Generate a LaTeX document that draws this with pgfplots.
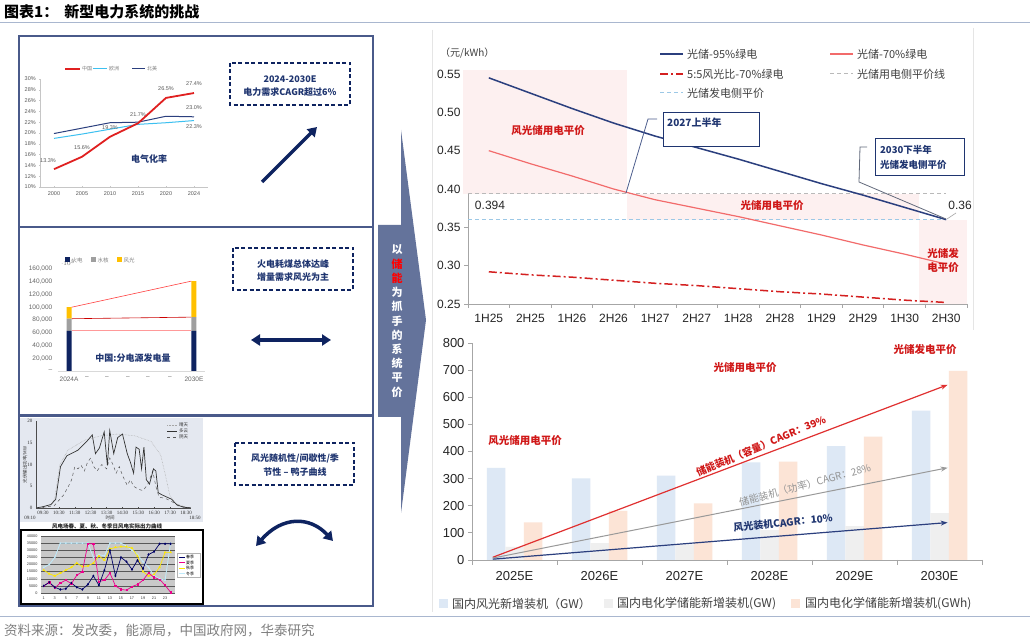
\documentclass[border=0pt]{standalone}
\usepackage{pgfplots}
\pgfplotsset{compat=1.18}
\usepackage{fontspec}
\setmainfont{Noto Sans CJK SC}
\newfontfamily\arial{Liberation Sans}
\newfontfamily\tms{Liberation Serif}
\usetikzlibrary{arrows.meta}
\newcommand\fs[1]{\fontsize{#1}{#1}\selectfont}
\definecolor{navy}{HTML}{0E2360}
\definecolor{dnavy}{HTML}{2B3F7E}
\definecolor{cnavy}{HTML}{1F3570}
\definecolor{slate}{HTML}{64739B}
\definecolor{boxc}{HTML}{4A5A8A}
\definecolor{hline}{HTML}{A9B7CF}
\definecolor{lred}{HTML}{F26B6B}
\definecolor{dred}{HTML}{D42020}
\definecolor{tred}{HTML}{D01818}
\definecolor{lblue}{HTML}{9CC8E6}
\definecolor{pinkbg}{HTML}{FDF0F0}
\definecolor{barb}{HTML}{DDE8F5}
\definecolor{barg}{HTML}{EFEFEF}
\definecolor{baro}{HTML}{FCE4D6}
\definecolor{txt}{HTML}{404040}
\definecolor{cred}{HTML}{E02020}
\definecolor{ccyan}{HTML}{3CC0F0}
\definecolor{cyel}{HTML}{FFC000}
\definecolor{imgbg}{HTML}{E4E8F0}
\definecolor{arrred}{HTML}{E03030}
\tikzset{px/.style={x=1pt,y=1pt,shift={(0pt,642pt)},yscale=-1}}
\begin{document}
\begin{tikzpicture}
\fill[white] (0pt,0pt) rectangle (1030pt,642pt);

% ---------------- background decorations (pixel coords, y downward)
\begin{scope}[px]
 \node[anchor=west,inner sep=0,font=\fs{15}\bfseries] at (4,12) {图表1：\hspace{6pt}新型电力系统的挑战};
 \draw[hline,line width=1pt] (0,23) -- (1030,23);
 \draw[hline,line width=1pt] (0,617) -- (1030,617);
 \node[anchor=west,inner sep=0,font=\fs{13.5},text=gray] at (4,630) {资料来源：发改委，能源局，中国政府网，华泰研究};
 \draw[boxc,line width=1.3pt] (19,36) rectangle (373,227);
 \draw[boxc,line width=1.3pt] (19,227) rectangle (373,415);
 \draw[boxc,line width=1.3pt] (19,416) rectangle (373,606);
 \draw[gray!20] (432,30) -- (432,612);
 \draw[gray!20] (973,28) -- (973,330);
 % middle arrow
 \fill[slate] (401,130) -- (426,320) -- (401,513) -- (401,417) -- (378,417) -- (378,225) -- (401,225) -- cycle;
 \begin{scope}[every node/.style={font=\fs{11}\bfseries,text=white,inner sep=0}]
  \node at (397,250.0) {以};
  \node[text=red] at (397,264.2) {储};
  \node[text=red] at (397,278.4) {能};
  \node at (397,292.6) {为};
  \node at (397,306.8) {抓};
  \node at (397,321.0) {手};
  \node at (397,335.2) {的};
  \node at (397,349.4) {系};
  \node at (397,363.6) {统};
  \node at (397,377.8) {平};
  \node at (397,392.0) {价};
 \end{scope}
 % box 3 image backgrounds
 \fill[imgbg] (20,418) rectangle (203,522);
 \draw[black,line width=1.5pt,fill=white] (21,530) rectangle (203,604);
\end{scope}

% ---------------- Box 1 : electrification rate
\begin{axis}[at={(40pt,455pt)},anchor=south west,scale only axis,width=168pt,height=108pt,
  xmin=-0.5,xmax=5.5,ymin=10,ymax=30,
  axis lines=left, axis line style={-,draw=gray!45,line width=0.4pt},
  xtick={0,...,5}, xticklabels={2000,2005,2010,2015,2020,2024},
  ytick={10,12,...,30}, yticklabel={\pgfmathprintnumber{\tick}\%},
  tick style={draw=gray!45}, major tick length=1.5pt,
  tick label style={font=\arial\fs{5.5},text=gray!70!black},
  /pgf/number format/assume math mode=true]
\addplot[ccyan,line width=1pt] coordinates {(0,19.0)(1,19.8)(2,20.7)(3,21.6)(4,21.9)(5,22.3)};
\addplot[dnavy,line width=1pt] coordinates {(0,19.9)(1,20.9)(2,21.9)(3,22.0)(4,23.1)(5,23.0)};
\addplot[cred,line width=1.8pt] coordinates {(0,13.3)(1,15.6)(2,19.3)(3,21.8)(4,26.5)(5,27.4)};
\end{axis}

% ---------------- Box 2 : generation by source
\begin{axis}[at={(58pt,271pt)},anchor=south west,scale only axis,width=147pt,height=102pt,
  xmin=-0.53,xmax=6.53,ymin=0,ymax=160000,clip=false,
  ybar stacked, bar width=5pt,
  axis lines=left, x axis line style={-,draw=gray!30,line width=0.6pt}, y axis line style={draw=none},
  xtick={0,0.86,1.82,2.83,3.79,4.85,6}, xticklabels={2024A,–,–,–,–,–,2030E},
  ytick={0,20000,...,160000},
  yticklabels={–,{20,000},{40,000},{60,000},{80,000},{100,000},{120,000},{140,000},{160,000}},
  tick style={draw=none},
  tick label style={font=\arial\fs{6.5},text=gray!80!black}]
\addplot[fill=navy,draw=none] coordinates {(0,63000)(6,63000)};
\addplot[fill=gray!75,draw=none] coordinates {(0,19000)(6,21500)};
\addplot[fill=cyel,draw=none] coordinates {(0,18000)(6,56500)};
\draw[red!75,line width=0.6pt] (axis cs:0.12,100000) -- (axis cs:5.88,141000);
\draw[red!80!black,line width=0.6pt] (axis cs:0.12,82000) -- (axis cs:5.88,84500);
\draw[red!40,line width=0.8pt] (axis cs:0.12,63000) -- (axis cs:5.88,63000);
\end{axis}

% ---------------- Box 3 top : daily PV output
\begin{axis}[at={(36pt,134pt)},anchor=south west,scale only axis,width=155pt,height=87pt,
  xmin=9.06,xmax=18.81,ymin=0,ymax=20,
  axis lines=left, axis line style={-,draw=gray!60!black,line width=0.4pt},
  xtick={9.5,10.5,...,18.5},
  xticklabels={09:30,10:30,11:30,12:30,13:30,14:30,15:30,16:30,17:30,18:30},
  ytick={0,5,10,15,20}, tick style={draw=gray!60!black}, major tick length=1.2pt, tick align=inside,
  tick label style={font=\tms\fs{5},text=black!80},
  /pgf/number format/assume math mode=true]
\addplot[gray!70,line width=0.5pt,densely dotted] coordinates {(9.06,0)(9.6,0.1)(10.0,0.5)(10.24,2.3)(10.55,9.9)(11.07,13.3)(12.12,15.6)(13.15,16.6)(14.2,17)(15.27,16.6)(16.3,15.3)(16.9,12.2)(17.2,7.6)(17.47,3)(17.8,1.1)(18.4,0.3)(18.81,0)};
\addplot[gray!70!black,line width=0.5pt,dashed] coordinates {(9.06,0)(10.2,0.5)(10.8,3)(11.1,5)(11.3,6.5)(11.5,9.5)(11.7,9)(11.9,9.8)(12.1,8.5)(12.3,10.5)(12.5,11.5)(12.7,9.5)(12.9,8.5)(13.2,10)(13.5,9)(13.7,11.5)(13.9,10)(14.1,8)(14.3,9.5)(14.5,7.5)(14.8,5.2)(15.0,6.5)(15.2,5)(15.5,4.3)(15.8,4)(16.1,5.5)(16.4,8.5)(16.6,5)(16.8,2.5)(17.2,2.2)(17.6,1.5)(18.0,0.5)(18.81,0)};
\addplot[black!80,line width=0.7pt] coordinates {(9.06,0)(9.5,0.3)(10.0,0.8)(10.3,2)(10.6,9.5)(11.0,12)(11.7,13.3)(12.3,15.5)(12.6,16.8)(12.8,12.5)(13.05,13.8)(13.35,17.5)(13.55,9.8)(13.7,17.8)(13.95,12.5)(14.2,16.2)(14.5,17)(14.8,12.5)(15.0,10.5)(15.2,8)(15.35,14)(15.55,13.5)(15.7,9)(15.85,14)(16.0,6.5)(16.2,5.5)(16.45,9)(16.6,8.5)(16.75,3.5)(17.0,3)(17.3,2.5)(17.6,2)(17.9,0.8)(18.3,0.2)(18.81,0)};
\end{axis}

% ---------------- Box 3 bottom : seasonal wind output
\begin{axis}[at={(41pt,49pt)},anchor=south west,scale only axis,width=134pt,height=57pt,
  xmin=0.5,xmax=24.8,ymin=0,ymax=40000,
  axis background/.style={fill=gray!42},
  axis line style={draw=none}, ymajorgrids, grid style={gray!70!black,line width=0.4pt},
  xtick={1,3,...,23}, ytick={0,5000,...,40000}, scaled y ticks=false,
  tick style={draw=none},
  tick label style={font=\arial\fs{3.8},text=black!80},
  /pgf/number format/set thousands separator={},
  /pgf/number format/assume math mode=true]
\addplot[cyan!25,line width=0.8pt,mark=x,mark size=0.8pt] coordinates {(1,18000)(2,20000)(3,25000)(4,35000)(5,35000)(6,35000)(7,35000)(8,35000)(9,35000)(10,25000)(11,27000)(12,26000)(13,35000)(14,35000)(15,35000)(16,33000)(17,30000)(18,27000)(19,22000)(20,18000)(21,12000)(22,10000)(23,9000)(24,35000)};
\addplot[yellow!90!orange,line width=0.7pt,mark=triangle*,mark size=0.8pt] coordinates {(1,16000)(2,13500)(3,12000)(4,14000)(5,16000)(6,18000)(7,21000)(8,18500)(9,19000)(10,21000)(11,26000)(12,23000)(13,31000)(14,32000)(15,32500)(16,32500)(17,31500)(18,26000)(19,15000)(20,12000)(21,13000)(22,18000)(23,28500)(24,28500)};
\addplot[magenta,line width=0.7pt,mark=square*,mark size=0.6pt] coordinates {(1,5000)(2,7500)(3,3500)(4,7000)(5,9000)(6,6500)(7,12500)(8,15000)(9,34500)(10,34500)(11,8000)(12,9000)(13,14000)(14,5000)(15,2500)(16,2000)(17,4500)(18,6000)(19,9000)(20,14000)(21,11000)(22,9500)(23,5500)(24,500)};
\addplot[blue!40!black,line width=0.7pt,mark=diamond*,mark size=0.8pt] coordinates {(1,5000)(2,7500)(3,4000)(4,2500)(5,3000)(6,7000)(7,4000)(8,2500)(9,6000)(10,12000)(11,5500)(12,16000)(13,30000)(14,12000)(15,25000)(16,22000)(17,16500)(18,23000)(19,17000)(20,27000)(21,29000)(22,34500)(23,34500)(24,34500)};
\end{axis}

% ---------------- Right top : levelised cost lines
\begin{axis}[at={(468pt,338pt)},anchor=south west,scale only axis,width=499pt,height=230pt,
  xmin=-0.5,xmax=11.5,ymin=0.25,ymax=0.55,clip=false,
  axis lines=left, axis line style={-,draw=gray!70,line width=0.8pt},
  xtick={0,...,11},
  xticklabels={1H25,2H25,1H26,2H26,1H27,2H27,1H28,2H28,1H29,2H29,1H30,2H30},
  xtick style={draw=none},
  ytick={0.25,0.30,0.35,0.40,0.45,0.50,0.55},
  ytick style={draw=gray!70,line width=0.8pt}, tick align=outside, major tick length=4pt,
  tick label style={font=\arial\fs{12},text=black!85},
  xticklabel style={yshift=-3pt},
  yticklabel style={/pgf/number format/.cd,fixed,fixed zerofill,precision=2},
  /pgf/number format/assume math mode=true]
\fill[pinkbg] (axis cs:-0.63,0.394) rectangle (axis cs:3.32,0.555);
\fill[pinkbg] (axis cs:3.32,0.36) rectangle (axis cs:10.34,0.394);
\fill[pinkbg] (axis cs:10.34,0.25) rectangle (axis cs:11.5,0.36);
\pgfplotsinvokeforeach{-0.5,0.5,...,11.5}{\draw[gray!70,line width=0.8pt] (axis cs:#1,0.25) -- ++(0pt,-4pt);}
\addplot[gray!55,line width=1pt,dash pattern=on 4pt off 3pt] coordinates {(-0.5,0.394)(11,0.394)};
\addplot[lblue,line width=1pt,dash pattern=on 4pt off 3pt] coordinates {(-0.5,0.36)(11,0.36)};
\addplot[dred,line width=1.5pt,dash pattern=on 8pt off 3pt on 2pt off 3pt] coordinates {(0,0.292)(1,0.288)(2,0.285)(3,0.281)(4,0.277)(5,0.274)(6,0.270)(7,0.266)(8,0.263)(9,0.259)(10,0.255)(11,0.252)};
\addplot[lred,line width=1.2pt] coordinates {(0,0.450)(1,0.433)(2,0.417)(3,0.400)(4,0.386)(5,0.375)(6,0.364)(7,0.352)(8,0.340)(9,0.327)(10,0.315)(11,0.302)};
\addplot[dnavy,line width=1.5pt] coordinates {(0,0.545)(1,0.525)(2,0.505)(3,0.486)(4,0.469)(5,0.454)(6,0.439)(7,0.423)(8,0.407)(9,0.392)(10,0.376)(11,0.360)};
\end{axis}

% ---------------- Right bottom : installations
\begin{axis}[at={(472pt,82pt)},anchor=south west,scale only axis,width=510pt,height=217pt,
  xmin=-0.5,xmax=5.5,ymin=0,ymax=800,clip=false,
  ybar=0pt,bar width=18.5pt,
  axis lines=left, axis line style={-,draw=gray!70,line width=0.8pt},
  xtick={0,...,5}, xticklabels={2025E,2026E,2027E,2028E,2029E,2030E},
  xtick style={draw=none},
  ytick={0,100,...,800}, ytick style={draw=gray!70,line width=0.8pt}, tick align=outside, major tick length=4pt,
  tick label style={font=\arial\fs{13},text=black!85},
  xticklabel style={yshift=-4pt},
  /pgf/number format/assume math mode=true]
\addplot[fill=barb,draw=none] coordinates {(0,340)(1,301)(2,311)(3,360)(4,420)(5,551)};
\addplot[fill=barg,draw=none] coordinates {(0,48)(1,62)(2,58)(3,110)(4,125)(5,173)};
\addplot[fill=baro,draw=none] coordinates {(0,139)(1,181)(2,209)(3,363)(4,455)(5,697)};
\pgfplotsinvokeforeach{-0.5,0.5,...,5.5}{\draw[gray!70,line width=0.8pt] (axis cs:#1,0) -- ++(0pt,-5pt);}
\draw[arrred,line width=1.2pt,-{Stealth[length=7pt,width=5pt]}] (axis cs:-0.256,10) -- (axis cs:5.096,646);
\draw[gray!80,line width=1pt,-{Stealth[length=7pt,width=5pt]}] (axis cs:-0.256,7) -- (axis cs:5.096,340);
\draw[dnavy,line width=1.2pt,-{Stealth[length=7pt,width=5pt]}] (axis cs:-0.256,3) -- (axis cs:5.096,138);
\end{axis}

% ---------------- overlays (pixel coords, y downward)
\begin{scope}[px]
 % box 1
 \draw[cred,line width=1.8pt] (65,69) -- (80,69);
 \draw[ccyan,line width=1pt] (93,69) -- (107,69);
 \draw[dnavy,line width=1pt] (132,69) -- (145,69);
 \begin{scope}[every node/.style={anchor=west,inner sep=0,font=\fs{5},text=gray}]
  \node at (82,69) {中国}; \node at (109,69) {欧洲}; \node at (147,69) {北美};
 \end{scope}
 \begin{scope}[every node/.style={inner sep=0,font=\arial\fs{5.5},text=gray!70!black}]
  \node at (48,161) {13.3\%}; \node at (82,148) {15.6\%}; \node at (110,128) {19.3\%};
  \node at (138,115) {21.7\%}; \node at (166,89) {26.5\%}; \node at (194,84) {27.4\%};
  \node at (194,108) {23.0\%}; \node at (194,127) {22.3\%};
 \end{scope}
 \node[inner sep=0,font=\fs{9}\bfseries,text=cnavy] at (149,159) {电气化率};
 \draw[navy,line width=1.3pt,dash pattern=on 4pt off 2.5pt] (230,63) rectangle (350,105);
 \node[inner sep=0,font=\fs{9}\bfseries,text=cnavy] at (290,79) {2024-2030E};
 \node[inner sep=0,font=\fs{9}\bfseries,text=cnavy] at (290,92) {电力需求CAGR超过6\%};
 \draw[navy,line width=3.5pt,-{Triangle[length=9pt,width=11pt]}] (262,182) -- (317,127);
 % box 2
 \fill[navy] (65,257.5) rectangle (70,262.5);
 \fill[gray!75] (91,257.5) rectangle (96,262.5);
 \fill[cyel] (117,257.5) rectangle (122,262.5);
 \begin{scope}[every node/.style={anchor=west,inner sep=0,font=\fs{5.5},text=gray}]
  \node at (71.5,260) {火电}; \node at (97.5,260) {水核}; \node at (123.5,260) {风光};
 \end{scope}
 \node[inner sep=0,font=\fs{9}\bfseries,text=cnavy] at (133,358) {中国:分电源发电量};
 \draw[navy,line width=1.3pt,dash pattern=on 4pt off 2.5pt] (233,248) rectangle (353,290);
 \node[inner sep=0,font=\fs{9}\bfseries,text=cnavy] at (293,264) {火电耗煤总体达峰};
 \node[inner sep=0,font=\fs{9}\bfseries,text=cnavy] at (293,277) {增量需求风光为主};
 \draw[navy,line width=3.5pt,{Triangle[length=9pt,width=11pt]}-{Triangle[length=9pt,width=11pt]}] (251,340) -- (331,340);
 % box 3
 \node[inner sep=0,font=\tms\fs{5},text=black!80] at (30,518) {09:10};
 \node[inner sep=0,font=\tms\fs{5},text=black!80] at (195,518) {18:50};
 \node[inner sep=0,font=\fs{4.5},text=black!80] at (110,518) {时间};
 \node[inner sep=0,font=\fs{4.5},text=black!80,rotate=90] at (25,465) {光伏输出功率/MW};
 \draw[gray!70,densely dotted,line width=0.5pt] (167,425) -- (177,425);
 \draw[black!80,line width=0.6pt] (167,431) -- (177,431);
 \draw[gray!70!black,dashed,line width=0.5pt] (167,437) -- (177,437);
 \begin{scope}[every node/.style={anchor=west,inner sep=0,font=\fs{4.5},text=black!80}]
  \node at (179,425) {晴天}; \node at (179,431) {多云}; \node at (179,437) {阴天};
 \end{scope}
 \node[inner sep=0,font=\fs{5.5}\bfseries,text=black!85] at (107,526) {风电场春、夏、秋、冬季日风电实际出力曲线};
 \fill[white,draw=gray!60,line width=0.3pt] (177,553) rectangle (200,577);
 \draw[blue!40!black,line width=0.5pt] (179,557) -- (185,557);
 \draw[magenta,line width=0.5pt] (179,562.5) -- (185,562.5);
 \draw[yellow!90!orange,line width=0.5pt] (179,568) -- (185,568);
 \draw[cyan!25,line width=0.5pt] (179,573.5) -- (185,573.5);
 \begin{scope}[every node/.style={anchor=west,inner sep=0,font=\fs{4},text=black}]
  \node at (186,557) {春季}; \node at (186,562.5) {夏季}; \node at (186,568) {秋季}; \node at (186,573.5) {冬季};
 \end{scope}
 \draw[navy,line width=1.3pt,dash pattern=on 4pt off 2.5pt] (235,443) rectangle (354,485);
 \node[inner sep=0,font=\fs{9}\bfseries,text=cnavy] at (295,458) {风光随机性/间歇性/季};
 \node[inner sep=0,font=\fs{9}\bfseries,text=cnavy] at (295,472) {节性 – 鸭子曲线};
 \draw[navy,line width=3.5pt,{Triangle[length=9pt,width=11pt]}-{Triangle[length=9pt,width=11pt]}] (256,546) .. controls (282,516) and (310,516) .. (333,541);

 % right top chart overlays
 \node[anchor=west,inner sep=0,font=\fs{10},text=txt] at (440,53) {（元/kWh）};
 \draw[dnavy,line width=1.5pt] (660,54) -- (683,54);
 \draw[lred,line width=1.2pt] (830,54) -- (853,54);
 \draw[dred,line width=1.5pt,dash pattern=on 8pt off 3pt on 2pt off 3pt] (660,74) -- (683,74);
 \draw[gray!55,line width=1pt,dash pattern=on 4pt off 3pt] (830,74) -- (853,74);
 \draw[lblue,line width=1pt,dash pattern=on 4pt off 3pt] (660,93) -- (683,93);
 \begin{scope}[every node/.style={anchor=west,inner sep=0,font=\fs{11},text=txt}]
  \node at (687,54) {光储-95\%绿电};
  \node at (857,54) {光储-70\%绿电};
  \node at (687,74) {5:5风光比-70\%绿电};
  \node at (857,74) {光储用电侧平价线};
  \node at (687,93) {光储发电侧平价};
 \end{scope}
 \begin{scope}[every node/.style={inner sep=0,font=\fs{10.5}\bfseries,text=tred}]
  \node at (548,131) {风光储用电平价};
  \node at (772,206) {光储用电平价};
  \node at (943,253) {光储发};
  \node at (943,268) {电平价};
 \end{scope}
 \node[inner sep=0,font=\arial\fs{12},text=black!85] at (490,205) {0.394};
 \node[inner sep=0,font=\arial\fs{12},text=black!85] at (960,205) {0.36};
 \draw[gray!70,line width=0.6pt] (947,219) -- (956,213);
 % callouts
 \draw[cnavy!80,line width=0.8pt] (657,119) -- (648,119) -- (626,193);
 \draw[cnavy,line width=1pt,fill=white] (663,113) rectangle (759,147);
 \node[anchor=west,inner sep=0,font=\fs{10}\bfseries,text=cnavy] at (667,123) {2027上半年};
 \draw[gray!70!cnavy,line width=0.8pt] (867,147) -- (860,147) -- (859,182) -- (946,219);
 \draw[cnavy,line width=1pt,fill=white] (875,139) rectangle (964,176);
 \node[anchor=west,inner sep=0,font=\fs{9.5}\bfseries,text=cnavy] at (880,150) {2030下半年};
 \node[anchor=west,inner sep=0,font=\fs{9.5}\bfseries,text=cnavy] at (880,165) {光储发电侧平价};

 % right bottom chart overlays
 \begin{scope}[every node/.style={inner sep=0,font=\fs{10.5}\bfseries,text=tred}]
  \node at (525,441) {风光储用电平价};
  \node at (745,368) {光储用电平价};
  \node at (925,350) {光储发电平价};
 \end{scope}
 \node[inner sep=0,font=\fs{10}\bfseries,text=tred,rotate=23] at (761,446) {储能装机（容量）CAGR：39\%};
 \node[inner sep=0,font=\fs{10},text=gray!85,rotate=15] at (805,485) {储能装机（功率）CAGR：28\%};
 \node[inner sep=0,font=\fs{10}\bfseries,text=cnavy,rotate=6] at (783,523) {风光装机CAGR：10\%};
 % bottom legend
 \fill[barb] (439,599) rectangle (448,608);
 \fill[barg] (604,599) rectangle (613,608);
 \fill[baro] (791,599) rectangle (800,608);
 \begin{scope}[every node/.style={anchor=west,inner sep=0,font=\fs{12},text=txt}]
  \node at (452,603.5) {国内风光新增装机（GW）};
  \node at (617,603.5) {国内电化学储能新增装机(GW)};
  \node at (805,603.5) {国内电化学储能新增装机(GWh)};
 \end{scope}
\end{scope}
\pgfresetboundingbox
\path[use as bounding box] (0pt,0pt) rectangle (1030pt,642pt);
\end{tikzpicture}
\end{document}
